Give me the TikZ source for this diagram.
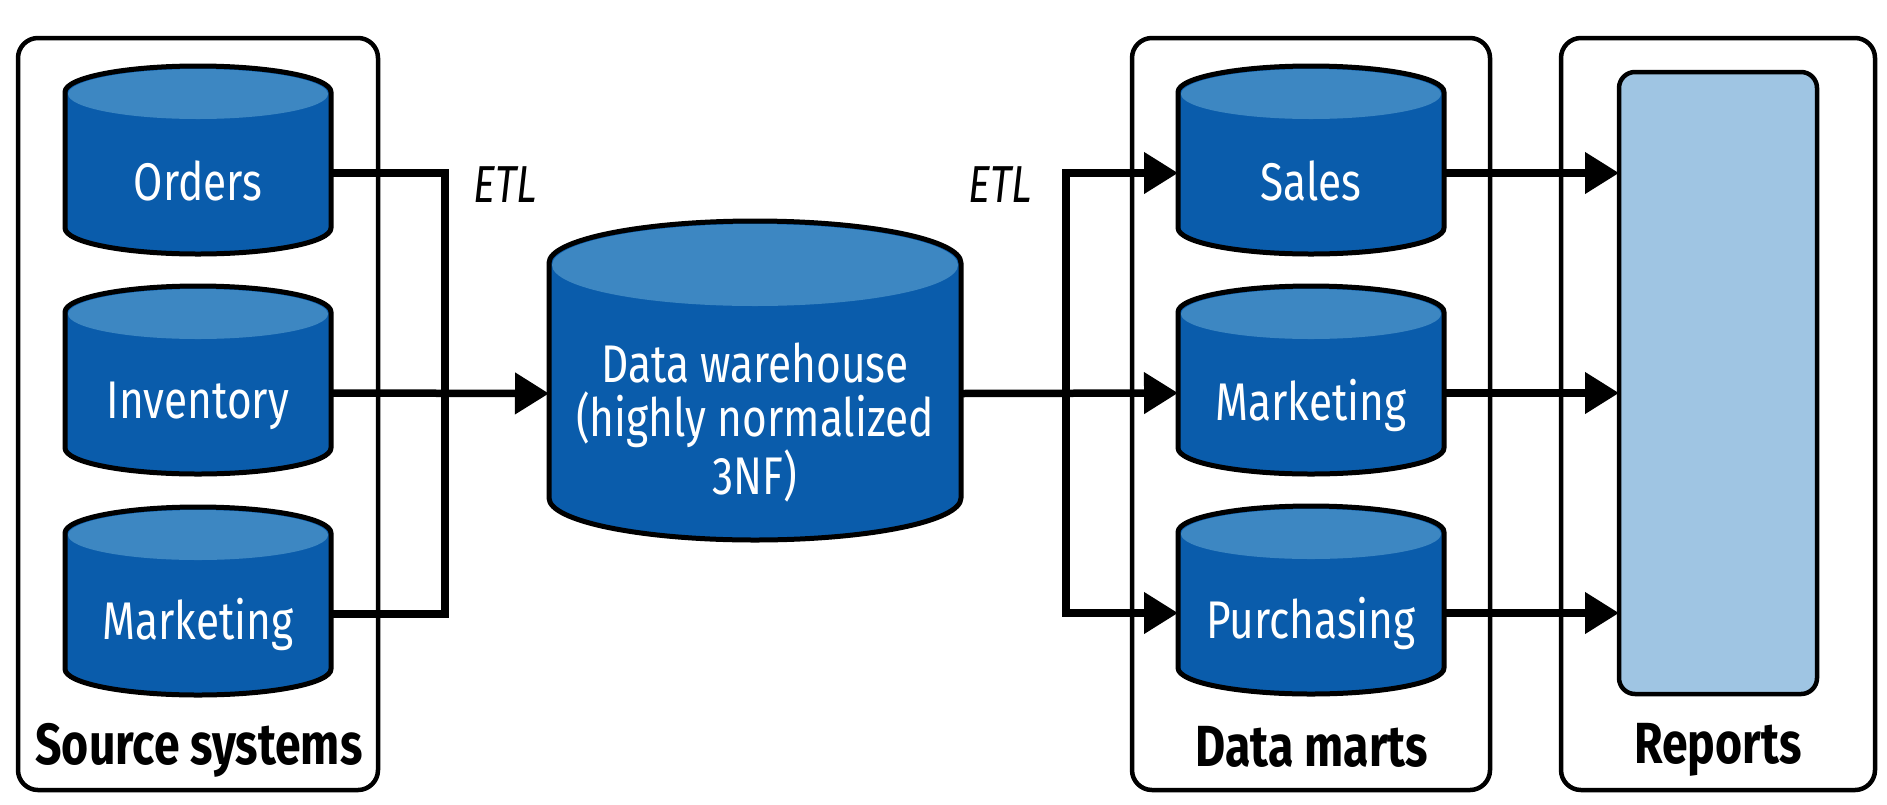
\documentclass[tikz,border=0pt]{standalone}
\usepackage{fontspec}
\setmainfont[FakeStretch=0.8]{Fira Sans}
\usetikzlibrary{arrows.meta, positioning}
\definecolor{dbdark}{HTML}{0A5CAB}
\definecolor{dblight}{HTML}{3D87C2}
\definecolor{reportfill}{HTML}{9FC5E3}
\tikzset{
  panel/.style={draw=black,line width=4.5pt,rounded corners=20pt,minimum width=#1,outer sep=0pt,inner sep=0pt,minimum height=752pt},
  panellbl/.style={font=\fontsize{58}{60}\selectfont\bfseries},
  dbnode/.style={inner sep=0pt,outer sep=0pt},
  dblbl/.style={text=white,align=center,font=\fontsize{53}{54}\selectfont},
  etl/.style={font=\fontsize{52}{54}\selectfont\itshape},
  flow/.style={line width=7.5pt,-{Triangle[length=34pt,width=40pt]}},
  bus/.style={line width=7.5pt,line join=miter},
}
% name, centre x, top y, width, height, end radius, text, text shift
\newcommand{\dbcyl}[8]{
  \pgfmathsetmacro{\lft}{#2-#4/2}
  \pgfmathsetmacro{\rgt}{#2+#4/2}
  \pgfmathsetmacro{\sidetop}{#3+#6}
  \pgfmathsetmacro{\sidebot}{#3+#5-#6}
  \pgfmathsetmacro{\rad}{#4/2}
  \fill[dbdark] (\lft,\sidetop) arc[start angle=180,end angle=360,x radius=\rad,y radius=#6]
    -- (\rgt,\sidebot) arc[start angle=0,end angle=-180,x radius=\rad,y radius=-#6] -- cycle;
  \fill[dblight] (#2,\sidetop+2) ellipse[x radius=\rad-3,y radius=#6-1];
  \draw[line width=5pt,line join=round] (\lft,\sidetop) arc[start angle=180,end angle=360,x radius=\rad,y radius=#6]
    -- (\rgt,\sidebot) arc[start angle=0,end angle=-180,x radius=\rad,y radius=-#6] -- cycle;
  \node[dbnode,minimum width=#4 pt,minimum height=#5 pt-2*#6 pt] (#1) at (#2,{#3+#5/2+13}) {};
  \node[dblbl,yshift=-#8 pt] (#1lbl) at (#1) {#7};
}

\begin{document}
\begin{tikzpicture}[x=1pt,y=-1pt]
  \useasboundingbox (0,0) rectangle (1887,804);
  % panels
  \node[panel=360pt] (srcbox) at (198,414) {};
  \node[panel=358pt] (martbox) at (1311,414) {};
  \node[panel=314pt] (repbox) at (1718,414) {};
  \node[panellbl] (srclbl) at (199,750) {Source systems};
  \node[panellbl] (martlbl) at (1312,747) {Data marts};
  \node[panellbl] (replbl) at (1718,750) {Reports};
  % cylinders
  \dbcyl{orders}{198}{66}{266}{188}{26}{Orders}{8}
  \dbcyl{inventory}{198}{286}{266}{188}{26}{Inventory}{13}
  \dbcyl{srcmktg}{198}{507}{266}{188}{26}{Marketing}{10}
  \dbcyl{wh}{755}{221}{412}{319}{42}{Data warehouse\\(highly normalized\\3NF)}{29}
  \dbcyl{sales}{1311}{66}{266}{188}{26}{Sales}{8}
  \dbcyl{mktg}{1311}{286}{266}{188}{26}{Marketing}{12}
  \dbcyl{purch}{1311}{506}{266}{188}{26}{Purchasing}{10}
  \node[draw=black,line width=4.5pt,fill=reportfill,rounded corners=16pt,minimum width=198pt,minimum height=622pt,outer sep=0pt] (rep) at (1718,383) {};
  % connectors
  \coordinate (busl) at (445,393);
  \coordinate (busr) at (1066,393);
  \draw[bus] (orders.east) -| (busl);
  \draw[bus] (srcmktg.east) -| (busl);
  \draw[flow] (inventory.east) -- (wh.west);
  \draw[flow] (wh.east) -- (mktg.west);
  \draw[flow] (busr) |- (sales.west);
  \draw[flow] (busr) |- (purch.west);
  \foreach \db in {sales,mktg,purch}
    \draw[flow] (\db.east) -- (\db.east -| rep.west);
  \node[etl] (etlin) at (505,185) {ETL};
  \node[etl] (etlout) at (1000,185) {ETL};
\end{tikzpicture}
\end{document}
